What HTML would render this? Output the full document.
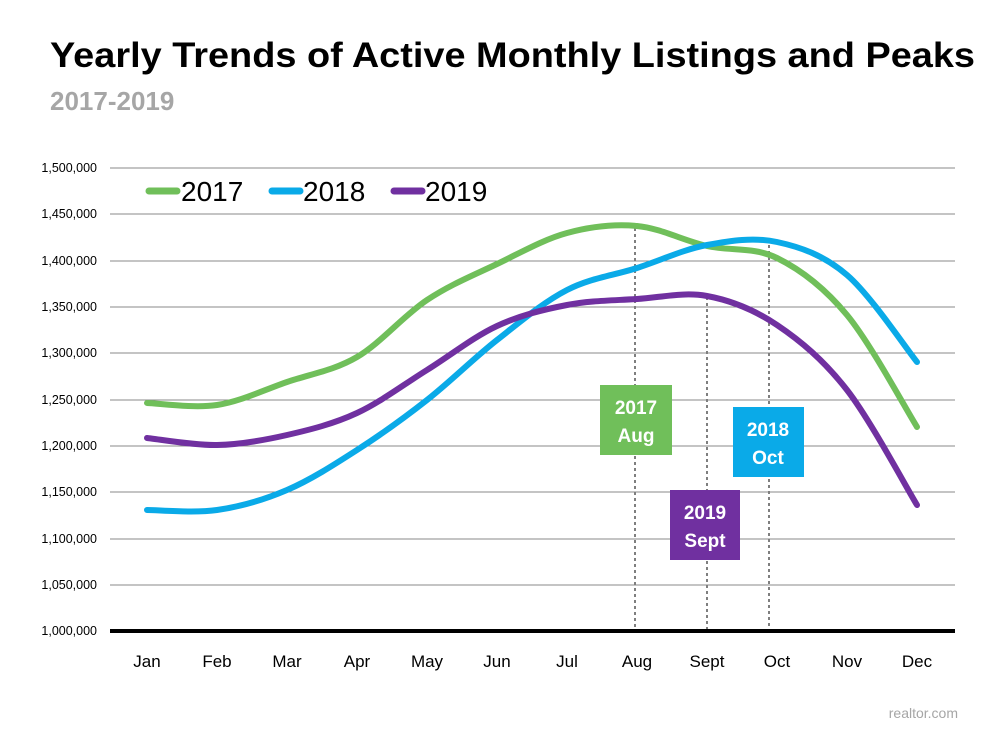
<!DOCTYPE html>
<html><head><meta charset="utf-8"><style>
body{margin:0;background:#fff;}
svg{display:block;font-family:"Liberation Sans",sans-serif;}
</style></head><body>
<svg id="s" width="1000" height="750" xmlns="http://www.w3.org/2000/svg">
<text x="50" y="67" font-size="35" font-weight="bold" fill="#000" textLength="925" lengthAdjust="spacingAndGlyphs">Yearly Trends of Active Monthly Listings and Peaks</text>
<text x="50" y="110" font-size="26" font-weight="bold" fill="#a6a6a6">2017-2019</text>
<g stroke="#8a8a8a" stroke-width="1">
<line x1="110" x2="955" y1="168" y2="168"/><line x1="110" x2="955" y1="214" y2="214"/><line x1="110" x2="955" y1="261" y2="261"/><line x1="110" x2="955" y1="307" y2="307"/><line x1="110" x2="955" y1="353" y2="353"/><line x1="110" x2="955" y1="400" y2="400"/><line x1="110" x2="955" y1="446" y2="446"/><line x1="110" x2="955" y1="492" y2="492"/><line x1="110" x2="955" y1="539" y2="539"/><line x1="110" x2="955" y1="585" y2="585"/>
</g>
<g font-size="12.5" fill="#000" text-anchor="end">
<text x="97" y="172">1,500,000</text><text x="97" y="218">1,450,000</text><text x="97" y="265">1,400,000</text><text x="97" y="311">1,350,000</text><text x="97" y="357">1,300,000</text><text x="97" y="404">1,250,000</text><text x="97" y="450">1,200,000</text><text x="97" y="496">1,150,000</text><text x="97" y="543">1,100,000</text><text x="97" y="589">1,050,000</text><text x="97" y="635">1,000,000</text>
</g>
<g font-size="17" fill="#000" text-anchor="middle">
<text x="147" y="667">Jan</text><text x="217" y="667">Feb</text><text x="287" y="667">Mar</text><text x="357" y="667">Apr</text><text x="427" y="667">May</text><text x="497" y="667">Jun</text><text x="567" y="667">Jul</text><text x="637" y="667">Aug</text><text x="707" y="667">Sept</text><text x="777" y="667">Oct</text><text x="847" y="667">Nov</text><text x="917" y="667">Dec</text>
</g>
<g stroke="#7f7f7f" stroke-width="2" stroke-dasharray="3,3">
<line x1="635" x2="635" y1="228" y2="631"/><line x1="707" x2="707" y1="297" y2="631"/><line x1="769" x2="769" y1="245" y2="631"/>
</g>
<g id="lines" fill="none" stroke-width="6" stroke-linecap="round"></g>
<line x1="110" x2="955" y1="631" y2="631" stroke="#000" stroke-width="4"/>
<rect x="600" y="385" width="72" height="70" fill="#70bf5a"/>
<text x="636" y="414" font-size="19" font-weight="bold" fill="#fff" text-anchor="middle">2017</text>
<text x="636" y="442" font-size="19" font-weight="bold" fill="#fff" text-anchor="middle">Aug</text>
<rect x="733" y="407" width="71" height="70" fill="#0aaae8"/>
<text x="768" y="436" font-size="19" font-weight="bold" fill="#fff" text-anchor="middle">2018</text>
<text x="768" y="464" font-size="19" font-weight="bold" fill="#fff" text-anchor="middle">Oct</text>
<rect x="670" y="490" width="70" height="70" fill="#7030a0"/>
<text x="705" y="519" font-size="19" font-weight="bold" fill="#fff" text-anchor="middle">2019</text>
<text x="705" y="547" font-size="19" font-weight="bold" fill="#fff" text-anchor="middle">Sept</text>
<g stroke-width="7" stroke-linecap="round">
<line x1="149" x2="177" y1="191" y2="191" stroke="#70bf5a"/>
<line x1="272" x2="300" y1="191" y2="191" stroke="#0aaae8"/>
<line x1="394" x2="422" y1="191" y2="191" stroke="#7030a0"/>
</g>
<g font-size="28" fill="#000"><text x="181" y="201">2017</text><text x="303" y="201">2018</text><text x="425" y="201">2019</text></g>
<text x="958" y="718" font-size="14" fill="#a6a6a6" text-anchor="end">realtor.com</text>
</svg>
<script>
var xs=[147,217,287,357,427,497,567,637,707,777,847,917];
var data=[["#70bf5a",[403,405,382,357,300,264,233,226,246,258,315,427]],
["#0aaae8",[510,510,490,450,400,340,290,268,245,242,275,362]],
["#7030a0",[438,445,435,413,370,326,305,299,296,325,390,505]]];
var g=document.getElementById("lines"),h="";
data.forEach(function(d){var y=d[1],p="M"+xs[0]+","+y[0];
for(var i=0;i<11;i++){var y0=y[Math.max(i-1,0)],y3=y[Math.min(i+2,11)],x0=xs[Math.max(i-1,0)],x3=xs[Math.min(i+2,11)];
var c1x=xs[i]+(xs[i+1]-x0)/6,c1y=y[i]+(y[i+1]-y0)/6,c2x=xs[i+1]-(x3-xs[i])/6,c2y=y[i+1]-(y3-y[i])/6;
p+=" C"+c1x+","+c1y+" "+c2x+","+c2y+" "+xs[i+1]+","+y[i+1];}
h+='<path d="'+p+'" stroke="'+d[0]+'"/>';});
g.innerHTML=h;
</script>
</body></html>
